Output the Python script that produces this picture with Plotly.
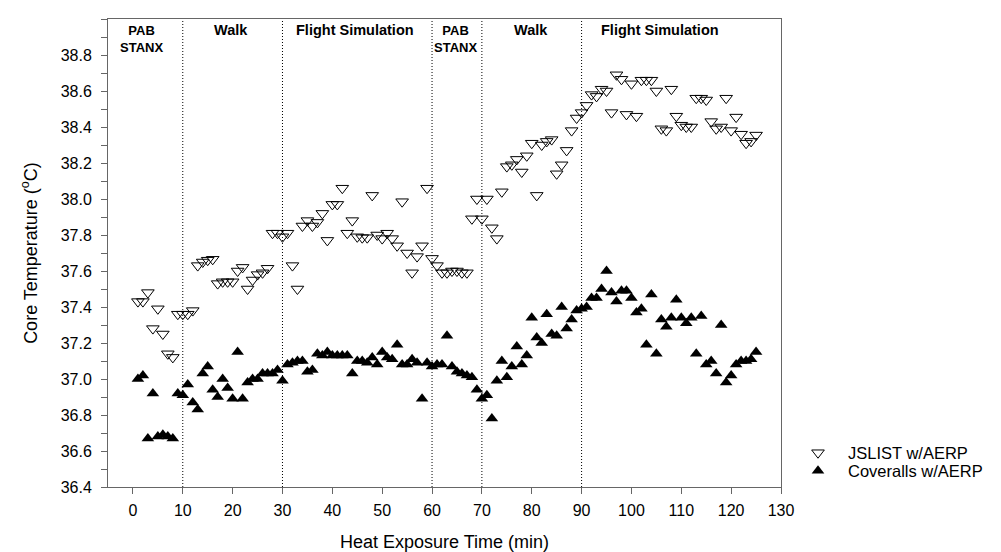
import plotly.graph_objects as go

time_min = list(range(1, 126))

jslist = [37.43, 37.43, 37.48, 37.28, 37.39, 37.25, 37.14, 37.12, 37.36, 37.36,
          37.36, 37.38, 37.63, 37.65, 37.66, 37.665, 37.53, 37.54, 37.54, 37.54,
          37.60, 37.62, 37.50, 37.55, 37.58, 37.59, 37.615, 37.81, 37.81, 37.79,
          37.81, 37.63, 37.50, 37.85, 37.88, 37.85, 37.87, 37.92, 37.77, 37.97,
          37.97, 38.06, 37.81, 37.88, 37.79, 37.785, 37.785, 38.02, 37.80, 37.78,
          37.81, 37.78, 37.74, 37.985, 37.70, 37.59, 37.68, 37.74, 38.06, 37.67,
          37.63, 37.59, 37.59, 37.60, 37.60, 37.59, 37.59, 37.89, 38.00, 37.89,
          38.00, 37.84, 37.78, 38.04, 38.18, 38.19, 38.22, 38.15, 38.24, 38.31,
          38.02, 38.30, 38.32, 38.33, 38.14, 38.19, 38.27, 38.38, 38.45, 38.48,
          38.52, 38.58, 38.57, 38.61, 38.60, 38.48, 38.69, 38.665, 38.47, 38.64,
          38.46, 38.66, 38.66, 38.66, 38.60, 38.39, 38.38, 38.61, 38.46, 38.41,
          38.40, 38.40, 38.56, 38.56, 38.55, 38.43, 38.39, 38.40, 38.56, 38.38,
          38.455, 38.36, 38.31, 38.32, 38.355]

coveralls = [37.00, 37.02, 36.67, 36.92, 36.68, 36.69, 36.68, 36.67, 36.92, 36.91,
             36.97, 36.87, 36.83, 37.03, 37.07, 36.94, 36.90, 37.00, 36.95, 36.89,
             37.15, 36.89, 36.98, 37.00, 37.00, 37.03, 37.03, 37.03, 37.05, 36.99,
             37.08, 37.09, 37.10, 37.10, 37.04, 37.05, 37.14, 37.13, 37.15, 37.13,
             37.13, 37.13, 37.13, 37.03, 37.10, 37.10, 37.09, 37.12, 37.08, 37.15,
             37.12, 37.11, 37.19, 37.08, 37.08, 37.11, 37.09, 36.89, 37.09, 37.07,
             37.08, 37.08, 37.24, 37.07, 37.04, 37.03, 37.02, 37.01, 36.94, 36.89,
             36.91, 36.78, 36.99, 37.10, 37.01, 37.07, 37.18, 37.08, 37.13, 37.34,
             37.23, 37.20, 37.36, 37.25, 37.24, 37.40, 37.28, 37.33, 37.38, 37.39,
             37.40, 37.45, 37.45, 37.50, 37.60, 37.48, 37.43, 37.49, 37.49, 37.45,
             37.37, 37.39, 37.19, 37.47, 37.14, 37.33, 37.29, 37.34, 37.44, 37.34,
             37.31, 37.34, 37.14, 37.35, 37.08, 37.10, 37.03, 37.30, 36.98, 37.02,
             37.08, 37.10, 37.10, 37.11, 37.15]

phase_bounds = [10, 30, 60, 70, 90]
phase_labels = ["PAB<br>STANX", "Walk", "Flight Simulation", "PAB<br>STANX", "Walk", "Flight Simulation"]
phase_label_x = [1.8, 19.6, 44.6, 64.8, 79.8, 105.7]

x_ticks = list(range(0, 131, 10))
y_ticks = [36.4, 36.6, 36.8, 37.0, 37.2, 37.4, 37.6, 37.8, 38.0, 38.2, 38.4, 38.6, 38.8]

FONT = "Arial, Liberation Sans, sans-serif"
AXC = "#666666"

fig = go.Figure()
fig.add_trace(go.Scatter(
    x=time_min, y=jslist, mode="markers", name="JSLIST w/AERP", legend="legend",
    marker=dict(symbol="triangle-down-open", size=11, color="black", line=dict(width=1, color="black")),
))
fig.add_trace(go.Scatter(
    x=time_min, y=coveralls, mode="markers", name="Coveralls w/AERP", legend="legend2",
    marker=dict(symbol="triangle-up", size=11, color="black", line=dict(width=0)),
))

for b in phase_bounds:
    fig.add_shape(type="line", x0=b, x1=b, y0=0, y1=1, xref="x", yref="paper",
                  line=dict(color="black", width=1, dash="1px,2px"), layer="below")

for lab, xx in zip(phase_labels, phase_label_x):
    multi = "<br>" in lab
    fig.add_annotation(x=xx, y=0.958 if multi else 0.977, xref="x", yref="paper",
                       text="<b>" + lab + "</b>", showarrow=False,
                       font=dict(family=FONT, size=13 if multi else 14.5, color="black"),
                       xanchor="center", yanchor="middle")

leg_common = dict(xanchor="left", yanchor="middle", bgcolor="rgba(0,0,0,0)", itemwidth=50,
                  font=dict(family=FONT, size=16.5, color="black"))

fig.update_layout(
    width=1001, height=552,
    margin=dict(l=100, r=228, t=11, b=73),
    paper_bgcolor="white", plot_bgcolor="white",
    font=dict(family=FONT, color="black"),
    showlegend=True,
    legend=dict(x=(780 - 100) / 673, y=(479 - 445) / 468, **leg_common),
    legend2=dict(x=(780 - 100) / 673, y=(479 - 463) / 468, **leg_common),
    xaxis=dict(range=[-5, 130], tickvals=x_ticks, ticks="outside", ticklen=6,
               tickcolor=AXC, showline=True, linecolor=AXC, linewidth=1,
               mirror=True, showgrid=False, zeroline=False, ticklabelstandoff=3,
               tickfont=dict(family=FONT, size=16, color="black"),
               title=dict(text="Heat Exposure Time (min)", font=dict(family=FONT, size=18, color="black"), standoff=17)),
    yaxis=dict(range=[36.4, 39.0], tickvals=y_ticks, tickformat=".1f", ticks="outside", ticklen=6,
               tickcolor=AXC, showline=True, linecolor=AXC, linewidth=1,
               mirror=True, showgrid=False, zeroline=False, ticklabelstandoff=6,
               minor=dict(dtick=0.1, tick0=36.4, ticks="outside", ticklen=6, tickcolor=AXC),
               tickfont=dict(family=FONT, size=16, color="black"),
               title=dict(text="Core Temperature (<sup>o</sup>C)", font=dict(family=FONT, size=18, color="black"), standoff=18)),
)

fig.write_html("out.html")
